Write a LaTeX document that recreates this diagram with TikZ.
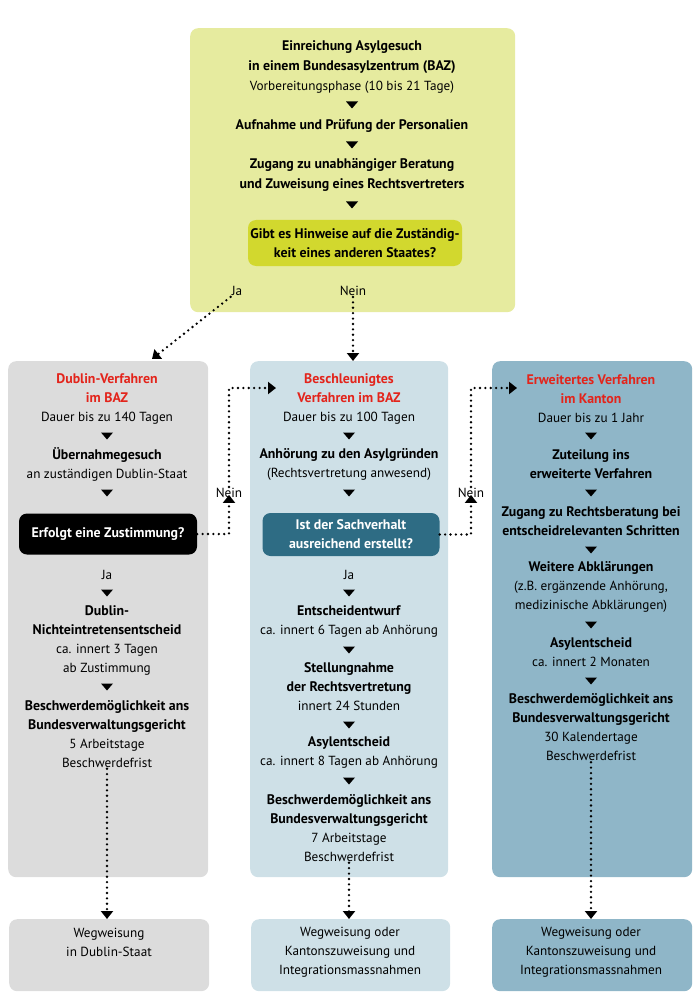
\documentclass[tikz,border=0pt]{standalone}
\usepackage{fontspec}
\setmainfont{PT Sans}[BoldFeatures={Scale=1.05}]
\usetikzlibrary{positioning}
\usetikzlibrary{arrows.meta}
\definecolor{gelb}{HTML}{E6EB9F}
\definecolor{gelbdunkel}{HTML}{D2D82E}
\definecolor{grau}{HTML}{DCDCDC}
\definecolor{hellblau}{HTML}{CEE0E7}
\definecolor{blau}{HTML}{8FB6C8}
\definecolor{petrol}{HTML}{2E6C84}
\definecolor{rot}{HTML}{E3241B}
\tikzstyle{feld}=[rounded corners=8pt,inner sep=0pt,anchor=north west]
\tikzstyle{frage}=[rounded corners=8pt,align=center,inner sep=2pt,font=\bfseries\fontsize{13.2}{19}\selectfont]
\tikzstyle{txt}=[align=center,inner sep=1pt,font=\fontsize{13.2}{19}\selectfont]
\tikzstyle{punkte}=[line width=2.6pt,line cap=round,dash pattern=on 0pt off 5.4pt,-{Triangle[width=12pt,length=8pt]}]
\tikzset{pfeil/.pic={\fill (-6,-3.5) -- (6,-3.5) -- (0,3.5) -- cycle;}}
\newcommand{\titel}[1]{\textcolor{rot}{\textbf{#1}}}

\begin{document}
\begin{tikzpicture}[x=1pt,y=-1pt]
	\useasboundingbox (0,0) rectangle (700,1000);
	
	% Felder
	\node [feld,fill=gelb,minimum width=325pt,minimum height=284pt] (start) at (190,28) {};
	\node [feld,fill=grau,minimum width=200pt,minimum height=516pt] (dublin) at (8,361) {};
	\node [feld,fill=hellblau,minimum width=198pt,minimum height=516pt] (beschl) at (250,361) {};
	\node [feld,fill=blau,minimum width=200pt,minimum height=516pt] (erweit) at (492,361) {};
	
	\node [feld,fill=grau,minimum width=200pt,minimum height=72pt] (wegdublin) at (9,919) {};
	\node [feld,fill=hellblau,minimum width=199pt,minimum height=72pt] (wegbeschl) at (251,919) {};
	\node [feld,fill=blau,minimum width=200pt,minimum height=72pt] (wegerweit) at (492,919) {};
	
	% Vorbereitungsphase
	\node [txt,font=\fontsize{13.2}{20}\selectfont] (s1) at (352,67) {\textbf{Einreichung Asylgesuch}\\\textbf{in einem Bundesasylzentrum (BAZ)}\\Vorbereitungsphase (10 bis 21 Tage)};
	\pic at (352,105) {pfeil};
	\node [txt] (s2) at (352,126) {\textbf{Aufnahme und Prüfung der Personalien}};
	\pic at (352,145) {pfeil};
	\node [txt,font=\fontsize{13.2}{20}\selectfont] (s3) at (352,175) {\textbf{Zugang zu unabhängiger Beratung}\\\textbf{und Zuweisung eines Rechtsvertreters}};
	\pic at (352,205) {pfeil};
	\node [frage,fill=gelbdunkel,minimum width=214pt,minimum height=46pt] (s4) at (355,243) {Gibt es Hinweise auf die Zuständig-\\keit eines anderen Staates?};
	\node [txt] (ja0) at (237,291) {Ja};
	\node [txt] (nein0) at (353,291) {Nein};
	
	% Dublin-Verfahren
	\node [txt] (d1) at (107,399) {\titel{Dublin-Verfahren}\\\titel{im BAZ}\\Dauer bis zu 140 Tagen};
	\pic at (107,436) {pfeil};
	\node [txt] (d2) at (107,464.5) {\textbf{Übernahmegesuch}\\an zuständigen Dublin-Staat};
	\pic at (107,493) {pfeil};
	\node [frage,fill=black,text=white,minimum width=178pt,minimum height=41pt] (d3) at (108,534) {Erfolgt eine Zustimmung?};
	\node [txt] (d4) at (107,575) {Ja};
	\pic at (107,593) {pfeil};
	\node [txt] (d5) at (107,640) {\textbf{Dublin-}\\\textbf{Nichteintretensentscheid}\\ca. innert 3 Tagen\\ab Zustimmung};
	\pic at (107,687) {pfeil};
	\node [txt] (d6) at (107,734) {\textbf{Beschwerdemöglichkeit ans}\\\textbf{Bundesverwaltungsgericht}\\5 Arbeitstage\\Beschwerdefrist};
	\node [txt] (d7) at (109,942.5) {Wegweisung\\in Dublin-Staat};
	
	% Beschleunigtes Verfahren
	\node [txt] (b1) at (349,399) {\titel{Beschleunigtes}\\\titel{Verfahren im BAZ}\\Dauer bis zu 100 Tagen};
	\pic at (349,436) {pfeil};
	\node [txt] (b2) at (349,464.5) {\textbf{Anhörung zu den Asylgründen}\\(Rechtsvertretung anwesend)};
	\pic at (349,493) {pfeil};
	\node [frage,fill=petrol,text=white,minimum width=177pt,minimum height=43pt] (b3) at (351,534.5) {Ist der Sachverhalt\\ausreichend erstellt?};
	\node [txt] (b4) at (349,575) {Ja};
	\pic at (349,593) {pfeil};
	\node [txt] (b5) at (349,621.5) {\textbf{Entscheidentwurf}\\ca. innert 6 Tagen ab Anhörung};
	\pic at (349,650) {pfeil};
	\node [txt] (b6) at (349,687) {\textbf{Stellungnahme}\\\textbf{der Rechtsvertretung}\\innert 24 Stunden};
	\pic at (349,725) {pfeil};
	\node [txt] (b7) at (349,752.5) {\textbf{Asylentscheid}\\ca. innert 8 Tagen ab Anhörung};
	\pic at (349,781) {pfeil};
	\node [txt] (b8) at (349,828) {\textbf{Beschwerdemöglichkeit ans}\\\textbf{Bundesverwaltungsgericht}\\7 Arbeitstage\\Beschwerdefrist};
	\node [txt] (b9) at (350,952) {Wegweisung oder\\Kantonszuweisung und\\Integrationsmassnahmen};
	
	% Erweitertes Verfahren
	\node [txt] (e1) at (591,399) {\titel{Erweitertes Verfahren}\\\titel{im Kanton}\\Dauer bis zu 1 Jahr};
	\pic at (591,436) {pfeil};
	\node [txt] (e2) at (591,464.5) {\textbf{Zuteilung ins}\\\textbf{erweiterte Verfahren}};
	\pic at (591,493) {pfeil};
	\node [txt] (e3) at (591,521.5) {\textbf{Zugang zu Rechtsberatung bei}\\\textbf{entscheidrelevanten Schritten}};
	\pic at (591,550) {pfeil};
	\node [txt] (e4) at (591,587) {\textbf{Weitere Abklärungen}\\(z.B. ergänzende Anhörung,\\medizinische Abklärungen)};
	\pic at (591,625) {pfeil};
	\node [txt] (e5) at (591,652.5) {\textbf{Asylentscheid}\\ca. innert 2 Monaten};
	\pic at (591,681) {pfeil};
	\node [txt] (e6) at (591,727.5) {\textbf{Beschwerdemöglichkeit ans}\\\textbf{Bundesverwaltungsgericht}\\30 Kalendertage\\Beschwerdefrist};
	\node [txt] (e7) at (591,952) {Wegweisung oder\\Kantonszuweisung und\\Integrationsmassnahmen};
	
	% Verbindungen
	\node [txt] (nein1) at (229,493) {Nein};
	\node [txt] (nein2) at (471,493) {Nein};
	\coordinate (dublinein) at (152,359);
	\coordinate (beschlein) at (276,388);
	\coordinate (erweitein) at (517,388);
	
	\draw[punkte] (ja0.south west) -- (dublinein);
	\draw[punkte] (nein0.south) -- (nein0.south |- beschl.north);
	
	\draw[punkte,shorten >=-4pt] (d3.east) -| (nein1.south);
	\draw[punkte] (nein1.north) |- (beschlein);
	\draw[punkte,shorten >=-4pt] (b3.east) -| (nein2.south);
	\draw[punkte] (nein2.north) |- (erweitein);
	
	\draw[punkte] (d6.south) -- (d6.south |- wegdublin.north);
	\draw[punkte] (b8.south) -- (b8.south |- wegbeschl.north);
	\draw[punkte] (e6.south) -- (e6.south |- wegerweit.north);
	
\end{tikzpicture}
\end{document}
